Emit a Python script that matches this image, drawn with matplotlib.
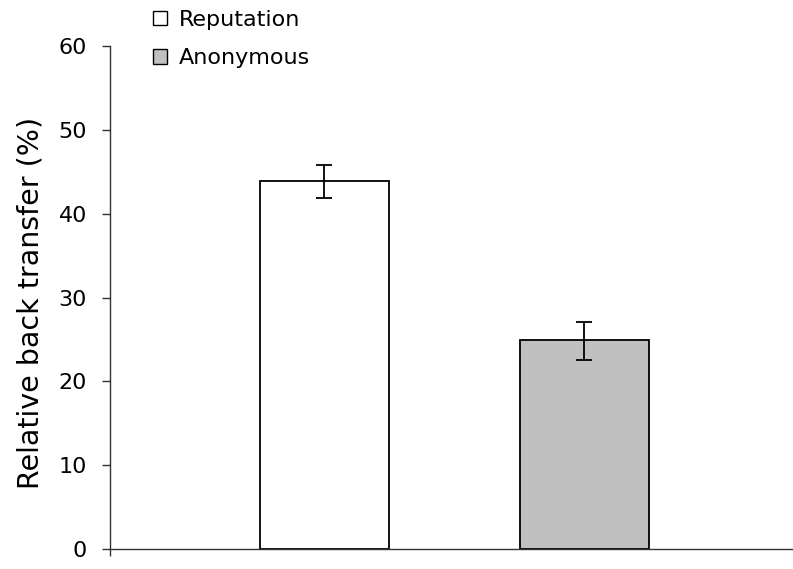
import matplotlib
matplotlib.use("Agg")
import matplotlib.pyplot as plt
from matplotlib.patches import Patch

categories = ["Reputation", "Anonymous"]
values = [43.9, 24.9]
err_low = [41.9, 22.6]
err_high = [45.8, 27.1]
colors = ["#FFFFFF", "#C0C0C0"]
yticks = [0, 10, 20, 30, 40, 50, 60]

plt.rcParams['font.family'] = ['DejaVu Sans']

fig = plt.figure(figsize=(7.93, 5.69), dpi=100)
ax = fig.add_axes([110/793, 20/569, (792-110)/793, (549-46)/569])

x = list(range(len(categories)))
yerr = [[v - l for v, l in zip(values, err_low)], [h - v for v, h in zip(values, err_high)]]
ax.bar(x, values, width=0.496, color=colors, edgecolor="black", linewidth=1.3,
       yerr=yerr, error_kw=dict(ecolor="black", elinewidth=1.3, capsize=6, capthick=1.3), zorder=2)

ax.set_xlim(-0.825, 1.8)
ax.set_ylim(0, 60)
ax.set_yticks(yticks)
ax.set_yticklabels([str(t) for t in yticks], fontsize=16)
ax.set_xticks([-0.825])
ax.set_xticklabels([""])
ax.tick_params(axis='x', length=5, width=1, direction='out', color='#333333')
ax.tick_params(axis='y', length=6, width=1, direction='out', pad=10.5, color='#333333')
for s in ['top', 'right']:
    ax.spines[s].set_visible(False)
for s in ['left', 'bottom']:
    ax.spines[s].set_linewidth(1.0)
    ax.spines[s].set_color('#333333')
ax.set_ylabel("Relative back transfer (%)", fontsize=20.5)
ax.yaxis.set_label_coords((45 - 110) / 682, 0.49)

handles = [Patch(facecolor=c, edgecolor="black", linewidth=1.0) for c in colors]
fig.legend(handles, categories, loc='upper left', bbox_to_anchor=(153/793, 1 - 10/569),
           frameon=False, fontsize=16, handlelength=0.63, handleheight=0.63,
           handletextpad=0.54, labelspacing=0.82, borderpad=0, borderaxespad=0)

fig.savefig("out.png", dpi=100)
